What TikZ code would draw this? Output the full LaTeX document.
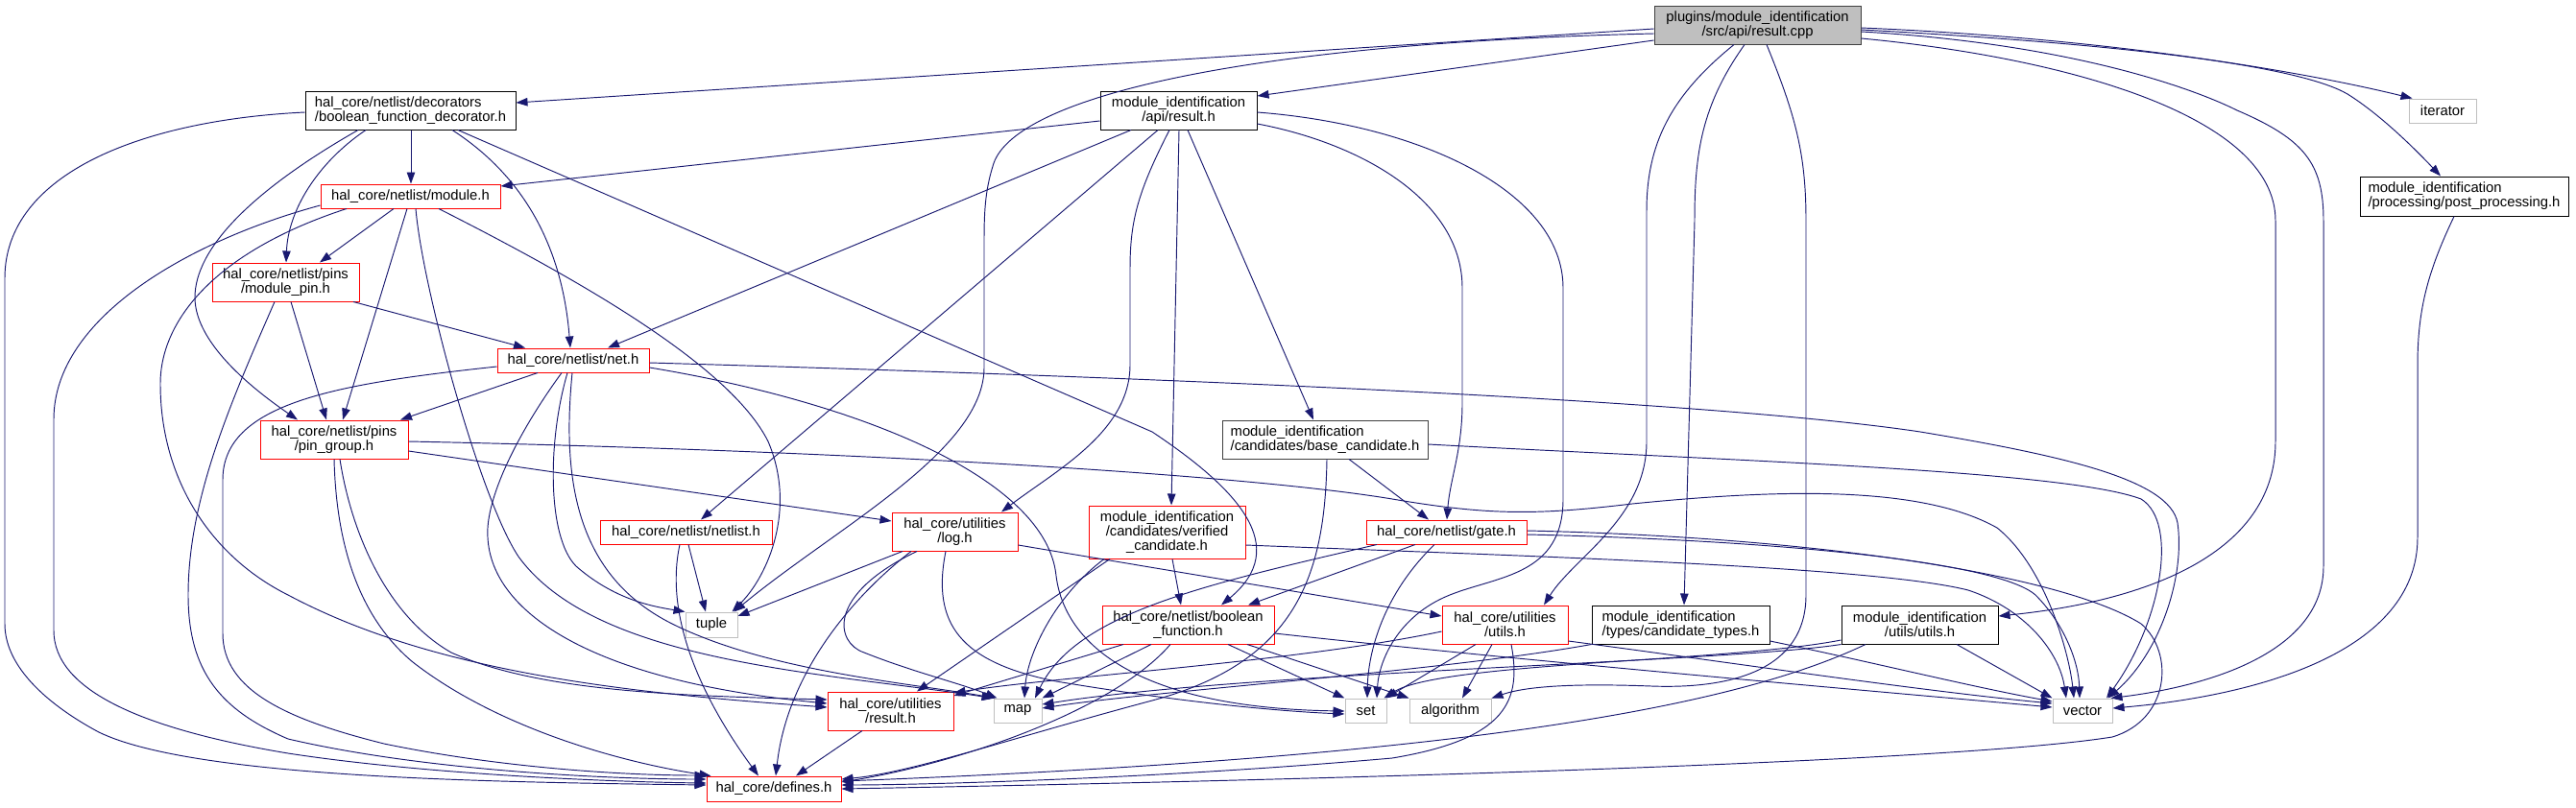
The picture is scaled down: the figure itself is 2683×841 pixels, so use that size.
\documentclass[tikz,border=0pt]{standalone}
\usepackage{fontspec}
\setmainfont{Liberation Sans}
\usetikzlibrary{arrows.meta}
\definecolor{edgeblue}{HTML}{191970}
\definecolor{nodered}{HTML}{FF0000}
\definecolor{boxgray}{HTML}{BFBFBF}
\definecolor{darkborder}{HTML}{404040}
\newcommand\lblfont{\fontsize{14.8pt}{15pt}\selectfont}
\begin{document}
\begin{tikzpicture}[x=1pt,y=-1pt,
  nd/.style={rectangle, draw, fill=white, line width=1pt, inner sep=0pt, align=center, font=\lblfont, text=black},
  sz/.style 2 args={minimum width=#1pt, minimum height=#2pt},
  bk/.style={nd, draw=black},
  dk/.style={nd, draw=darkborder},
  rd/.style={nd, draw=nodered},
  gy/.style={nd, draw=boxgray},
  ed/.style={draw=edgeblue, line width=0.95pt, -{Triangle[length=12pt,width=8.5pt]}},
]
\useasboundingbox (0,0) rectangle (2683,841);
% nodes
\node[dk, fill=boxgray, sz={215}{40}] (root) at (1830.5,26) {plugins/module\_identification\\/src/api/result.cpp};
\node[bk, align=left, sz={219}{40}] (deco) at (427.5,115) {hal\_core/netlist/decorators\\/boolean\_function\_decorator.h};
\node[bk, sz={163}{40}] (apires) at (1227.5,115) {module\_identification\\/api/result.h};
\node[gy, sz={70}{25}] (iter) at (2544,115.5) {iterator};
\node[bk, align=left, sz={217}{41}] (post) at (2566.5,204.5) {module\_identification\\/processing/post\_processing.h};
\node[rd, sz={187}{25}] (module) at (427.5,204.5) {hal\_core/netlist/module.h};
\node[rd, sz={153}{40}] (mpin) at (297.5,294) {hal\_core/netlist/pins\\/module\_pin.h};
\node[rd, sz={158}{25}] (net) at (597,375.5) {hal\_core/netlist/net.h};
\node[rd, sz={154}{40}] (pgroup) at (348,458) {hal\_core/netlist/pins\\/pin\_group.h};
\node[dk, align=left, sz={214}{40}] (basec) at (1380,458) {module\_identification\\/candidates/base\_candidate.h};
\node[rd, sz={179}{25}] (netlist) at (714.5,554.5) {hal\_core/netlist/netlist.h};
\node[rd, sz={131}{40}] (log) at (994.5,554) {hal\_core/utilities\\/log.h};
\node[rd, sz={163}{55}] (verified) at (1215.5,554.5) {module\_identification\\/candidates/verified\\\_candidate.h};
\node[rd, sz={167}{25}] (gate) at (1506.5,554.5) {hal\_core/netlist/gate.h};
\node[gy, sz={54}{26}] (tuple) at (741,651) {tuple};
\node[rd, sz={179}{40}] (boolf) at (1237.5,651) {hal\_core/netlist/boolean\\\_function.h};
\node[rd, sz={131}{40}] (hutils) at (1567.5,651) {hal\_core/utilities\\/utils.h};
\node[bk, align=left, sz={185}{40}] (ctypes) at (1750.5,651) {module\_identification\\/types/candidate\_types.h};
\node[bk, sz={163}{40}] (mutils) at (1999.5,651) {module\_identification\\/utils/utils.h};
\node[rd, sz={131}{40}] (hresult) at (927.5,741) {hal\_core/utilities\\/result.h};
\node[gy, sz={50}{25}] (map) at (1060,740.5) {map};
\node[gy, sz={43}{25}] (set) at (1422.5,740.5) {set};
\node[gy, sz={85}{25}] (algo) at (1510.5,740.5) {algorithm};
\node[gy, sz={62}{25}] (vector) at (2169,740.5) {vector};
\node[rd, sz={140}{26}] (defines) at (806,822) {hal\_core/defines.h};

% edges from root
\draw[ed] (root.west |- 0,30) -- (deco.east |- 0,107);
\draw[ed] (root.west |- 0,42) -- (apires.east |- 0,100);
\draw[ed] (root.west |- 0,35) .. controls (1300,45) and (1060,100) .. (1035,170) .. controls (1027,195) and (1025,215) .. (1025,250) -- (1025,383) .. controls (1025,470) and (870,550) .. ([xshift=-4pt]tuple.north east);
\draw[ed] (root.south -| 1806,0) .. controls (1740,100) and (1715,150) .. (1715,220) -- (1715,460) .. controls (1715,540) and (1640,580) .. (hutils.north -| 1608,0);
\draw[ed] (root.south -| 1817,0) .. controls (1772,110) and (1765,160) .. (1765,230) -- (ctypes.north -| 1754,0);
\draw[ed] (root.south -| 1840,0) .. controls (1870,120) and (1881,160) .. (1881,230) -- (1881,620) .. controls (1881,700) and (1800,718) .. (1720,715) .. controls (1640,712) and (1590,715) .. (algo.north east);
\draw[ed] (root.east |- 0,29) .. controls (2200,40) and (2400,75) .. ([xshift=4pt]iter.north west);
\draw[ed] (root.east |- 0,31) .. controls (2250,48) and (2400,72) .. (2445,98) .. controls (2480,120) and (2515,155) .. (post.north -| 2542,0);
\draw[ed] (root.east |- 0,33) .. controls (2150,45) and (2280,90) .. (2330,115) .. controls (2400,145) and (2420,170) .. (2420,230) -- (2420,590) .. controls (2420,680) and (2300,715) .. ([xshift=-2pt]vector.north east);
\draw[ed] (root.east |- 0,40) .. controls (2150,60) and (2370,120) .. (2370,230) -- (2370,460) .. controls (2370,570) and (2250,625) .. (mutils.east |- 0,642);

% edges from api/result.h
\draw[ed] (apires.west |- 0,126) -- (module.east |- 0,194);
\draw[ed] (apires.south -| 1178,0) -- (net.north -| 633,0);
\draw[ed] (apires.south -| 1206,0) -- (netlist.north -| 730,0);
\draw[ed] (apires.south -| 1218,0) .. controls (1185,200) and (1177,230) .. (1177,280) -- (1177,380) .. controls (1177,450) and (1100,490) .. (log.north -| 1043,0);
\draw[ed] (apires.south -| 1228,0) -- (verified.north -| 1220,0);
\draw[ed] (apires.south -| 1237,0) -- (basec.north -| 1368,0);
\draw[ed] (apires.east |- 0,129) .. controls (1420,150) and (1523,210) .. (1523,300) -- (1523,420) .. controls (1523,470) and (1510,500) .. (gate.north -| 1507,0);
\draw[ed] (apires.east |- 0,117) .. controls (1480,130) and (1628,200) .. (1628,300) -- (1628,520) .. controls (1628,600) and (1560,600) .. (1510,620) .. controls (1455,642) and (1436,690) .. (set.north -| 1434,0);

% edges from decorator
\draw[ed] (deco.west |- 0,117) .. controls (150,125) and (5,180) .. (5,290) -- (5,650) .. controls (5,700) and (60,740) .. (103,763) .. controls (200,810) and (500,815) .. (defines.west |- 0,818);
\draw[ed] (deco.south -| 428,0) -- (module.north -| 428,0);
\draw[ed] (deco.south -| 381,0) .. controls (330,170) and (300,220) .. (mpin.north -| 298,0);
\draw[ed] (deco.south -| 373,0) .. controls (260,200) and (203,260) .. (203,310) .. controls (203,360) and (270,410) .. (pgroup.north -| 310,0);
\draw[ed] (deco.south -| 471,0) .. controls (540,180) and (585,250) .. (net.north -| 594,0);
\draw[ed] (deco.south -| 477,0) -- (1200,450) .. controls (1290,510) and (1345,570) .. (boolf.north -| 1272,0);

% edges from module.h
\draw[ed] (module.south -| 410,0) -- (mpin.north -| 333,0);
\draw[ed] (module.south -| 424,0) -- (pgroup.north -| 357,0);
\draw[ed] (module.west |- 0,214) .. controls (200,250) and (56,330) .. (56,437) -- (56,657) .. controls (56,720) and (150,760) .. (300,785) .. controls (450,808) and (650,815) .. (defines.west |- 0,816);
\draw[ed] (module.south -| 361,0) .. controls (230,260) and (167,330) .. (167,400) .. controls (167,500) and (220,580) .. (300,620) .. controls (450,700) and (650,722) .. (hresult.west |- 0,737);
\draw[ed] (module.south -| 433,0) .. controls (440,300) and (500,520) .. (540,580) .. controls (620,690) and (850,700) .. (map.north west);
\draw[ed] (module.south -| 457,0) .. controls (600,290) and (760,380) .. (800,460) .. controls (830,530) and (800,600) .. ([xshift=-6pt]tuple.north east);

% edges from module_pin.h
\draw[ed] (mpin.south -| 368,0) -- (net.north -| 547,0);
\draw[ed] (mpin.south -| 303,0) -- (pgroup.north -| 340,0);
\draw[ed] (mpin.south -| 286,0) .. controls (240,420) and (196,520) .. (196,620) .. controls (196,700) and (230,740) .. (300,770) .. controls (450,805) and (650,812) .. (defines.west |- 0,812);

% edges from net.h
\draw[ed] (net.south -| 560,0) -- (pgroup.north -| 417,0);
\draw[ed] (net.west |- 0,382) .. controls (350,400) and (232,420) .. (232,500) -- (232,660) .. controls (232,720) and (300,750) .. (400,775) .. controls (520,800) and (650,808) .. (defines.west |- 0,808);
\draw[ed] (net.south -| 591,0) .. controls (570,460) and (570,560) .. (600,590) .. controls (640,625) and (680,632) .. (tuple.north west);
\draw[ed] (net.south -| 596,0) .. controls (585,500) and (600,600) .. (700,650) .. controls (800,700) and (950,712) .. ([xshift=2pt]map.north west);
\draw[ed] (net.south -| 585,0) .. controls (540,450) and (505,520) .. (508,560) .. controls (512,640) and (620,710) .. (hresult.west |- 0,733);
\draw[ed] (net.east |- 0,378) .. controls (1300,396) and (1800,420) .. (2000,450) .. controls (2150,475) and (2260,500) .. (2268,545) .. controls (2276,600) and (2250,680) .. ([xshift=-5pt]vector.north east);
\draw[ed] (net.east |- 0,383) .. controls (900,420) and (1090,500) .. (1100,600) .. controls (1110,680) and (1200,738) .. (set.west |- 0,741);

% edges from pin_group.h
\draw[ed] (pgroup.east |- 0,470) -- (log.west |- 0,543);
\draw[ed] (pgroup.east |- 0,460) .. controls (900,470) and (1300,495) .. (1450,520) .. controls (1550,537) and (1600,537) .. (1700,525) .. controls (1850,510) and (2000,505) .. (2080,550) .. controls (2130,590) and (2155,680) .. (vector.north -| 2160,0);
\draw[ed] (pgroup.south -| 348,0) .. controls (350,560) and (370,640) .. (430,690) .. controls (520,760) and (650,795) .. ([xshift=5pt]defines.north west);
\draw[ed] (pgroup.south -| 354,0) .. controls (365,550) and (400,640) .. (470,680) .. controls (560,720) and (700,725) .. (hresult.west |- 0,729);

% edges from netlist.h
\draw[ed] (netlist.south -| 717,0) -- (tuple.north -| 735,0);
\draw[ed] (netlist.south -| 708,0) .. controls (690,650) and (740,740) .. (defines.north -| 790,0);

% edges from log.h
\draw[ed] (log.south -| 940,0) -- (tuple.east |- 0,642);
\draw[ed] (log.south -| 949,0) .. controls (890,620) and (820,700) .. (defines.north -| 808,0);
\draw[ed] (log.south -| 955,0) .. controls (860,620) and (870,670) .. (900,680) .. controls (950,700) and (1000,712) .. ([xshift=4pt]map.north west);
\draw[ed] (log.south -| 985,0) .. controls (970,650) and (1000,690) .. (1100,710) .. controls (1250,735) and (1350,742) .. (set.west |- 0,744);
\draw[ed] (log.east |- 0,568) -- (hutils.west |- 0,642);

% edges from verified_candidate.h
\draw[ed] (verified.south -| 1221,0) -- (boolf.north -| 1230,0);
\draw[ed] (verified.south -| 1156,0) -- (hresult.north -| 955,0);
\draw[ed] (verified.south -| 1150,0) .. controls (1100,620) and (1070,680) .. (map.north -| 1067,0);
\draw[ed] (verified.east |- 0,568) .. controls (1600,580) and (1950,590) .. (2050,615) .. controls (2110,635) and (2145,680) .. (vector.north -| 2152,0);

% edges from base_candidate.h
\draw[ed] (basec.south -| 1405,0) -- (gate.north -| 1488,0);
\draw[ed] (basec.south -| 1382,0) .. controls (1380,600) and (1350,690) .. (1200,730) .. controls (1050,770) and (950,805) .. (defines.east |- 0,812);
\draw[ed] (basec.east |- 0,463) .. controls (1800,480) and (2150,490) .. (2230,520) .. controls (2270,545) and (2250,650) .. (vector.north -| 2194,0);

% edges from gate.h
\draw[ed] (gate.south -| 1474,0) -- (boolf.north -| 1300,0);
\draw[ed] (gate.south -| 1434,0) .. controls (1250,610) and (1120,640) .. (map.north -| 1078,0);
\draw[ed] (gate.south -| 1494,0) .. controls (1440,620) and (1425,680) .. (set.north -| 1424,0);
\draw[ed] (gate.east |- 0,557) .. controls (1850,563) and (2080,585) .. (2120,620) .. controls (2150,650) and (2165,690) .. (vector.north -| 2166,0);
\draw[ed] (gate.east |- 0,553) .. controls (1900,560) and (2150,600) .. (2230,650) .. controls (2265,680) and (2260,750) .. (2200,768) .. controls (2000,800) and (1100,818) .. (defines.east |- 0,822);

% edges from boolean_function.h
\draw[ed] (boolf.south -| 1170,0) -- (hresult.east |- 0,725);
\draw[ed] (boolf.south -| 1199,0) -- (map.north east);
\draw[ed] (boolf.south -| 1219,0) .. controls (1160,740) and (1000,795) .. (defines.east |- 0,815);
\draw[ed] (boolf.south -| 1279,0) -- (set.north west);
\draw[ed] (boolf.south -| 1299,0) -- (algo.north west);
\draw[ed] (boolf.east |- 0,660) .. controls (1600,690) and (1950,720) .. (vector.west |- 0,737);

% edges from hal utils.h
\draw[ed] (hutils.west |- 0,658) .. controls (1350,690) and (1100,705) .. (hresult.east |- 0,722);
\draw[ed] (hutils.south -| 1537,0) -- ([xshift=-1pt]set.north east);
\draw[ed] (hutils.south -| 1554,0) -- (algo.north -| 1523,0);
\draw[ed] (hutils.south -| 1574,0) .. controls (1585,730) and (1570,770) .. (1450,790) .. controls (1200,812) and (950,818) .. (defines.east |- 0,818);
\draw[ed] (hutils.east |- 0,668) .. controls (1800,690) and (2000,720) .. (vector.west |- 0,733);

% edges from candidate_types.h
\draw[ed] (ctypes.south west) .. controls (1500,700) and (1200,720) .. (map.east |- 0,738);
\draw[ed] (ctypes.east |- 0,668) .. controls (1950,690) and (2050,715) .. (vector.west |- 0,731);

% edges from module_identification utils.h
\draw[ed] (mutils.west |- 0,667) .. controls (1800,690) and (1500,690) .. ([xshift=-3pt]set.north east);
\draw[ed] (mutils.south west) .. controls (1800,690) and (1300,700) .. (map.east |- 0,734);
\draw[ed] (mutils.south -| 1943,0) .. controls (1800,740) and (1500,790) .. (defines.east |- 0,814);
\draw[ed] (mutils.south -| 2038,0) -- (vector.north west);

% edges from post_processing.h
\draw[ed] (post.south -| 2556,0) .. controls (2530,280) and (2518,320) .. (2518,380) -- (2518,560) .. controls (2518,680) and (2350,725) .. (vector.east |- 0,738);

% edge from result.h
\draw[ed] (hresult.south -| 898,0) -- (defines.north -| 829,0);
\end{tikzpicture}
\end{document}
